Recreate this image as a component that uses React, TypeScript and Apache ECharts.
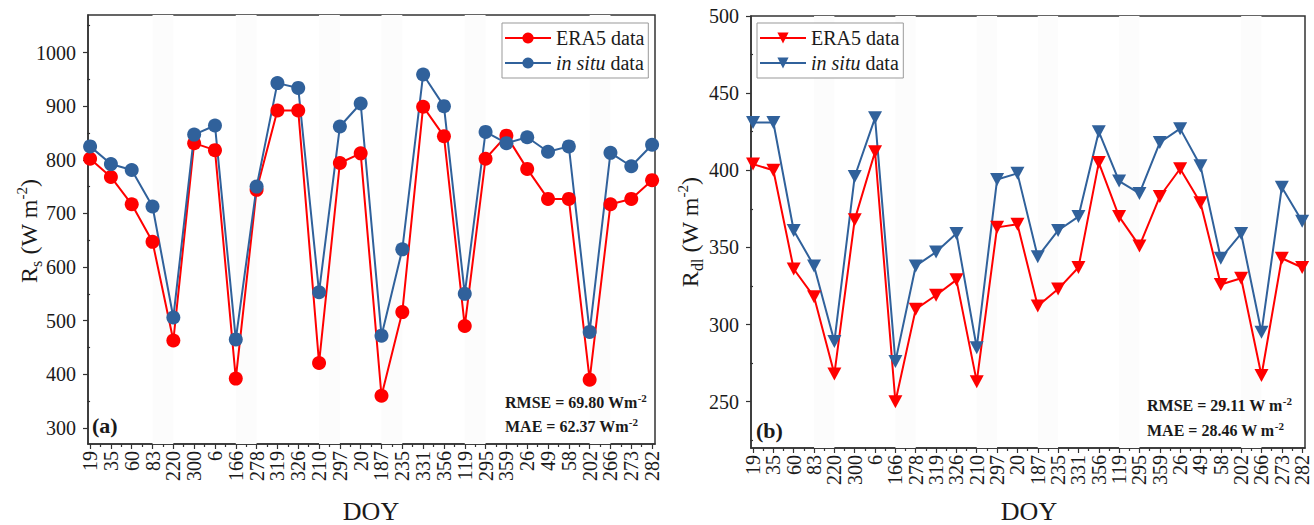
import React, { useEffect, useRef } from 'react';
import * as echarts from 'echarts';

const categories = ['19','35','60','83','220','300','6','166','278','319','326','210','297','20','187','235','331','356','119','295','359','26','49','58','202','266','273','282'];

const rsEra5 = [802,768,717,647,463,831,818,392,744,892,892,421,794,812,360,516,899,844,490,802,845,783,727,727,390,717,727,762];
const rsInSitu = [825,792,781,713,506,847,864,465,750,943,934,553,862,905,472,633,959,900,550,852,831,842,815,825,479,813,788,828];

const rdlEra5 = [404,400,336,318,268,368,412,250,310,319,329,263,363,365,312,323,337,405,370,351,383,401,379,326,330,267,343,337];
const rdlInSitu = [431,431,361,338,289,396,434,276,338,347,359,285,394,398,344,361,370,425,393,385,418,427,403,343,359,295,389,367];

const bandRanges = [[3,4],[7,8],[11,12],[14,15],[18,19],[24,25]];

const rsMajor = [300,400,500,600,700,800,900,1000];
const rsMinor = [350,450,550,650,750,850,950,1050];
const rdlMajor = [250,300,350,400,450,500];
const rdlMinor = [225,275,325,375,425,475];

const FONT = 'Liberation Serif';
const AXIS = '#333';
const RED = '#FF0000';
const BLUE = '#30619B';
const BAND = '#fcfcfc';
const TXT = '#1a1a1a';

const catIdx = categories.map((_, i) => i);
const catHalf = categories.slice(1).map((_, i) => i + 0.5);

function xAxes(gridIndex: number) {
  return [
    {
      type: 'value', gridIndex, min: -0.1, max: 27.14, position: 'bottom',
      axisLine: { show: true, onZero: false, lineStyle: { color: AXIS, width: 1.5 } },
      axisTick: { show: true, customValues: catIdx, length: 5, lineStyle: { color: AXIS, width: 1.2 } },
      axisLabel: {
        customValues: catIdx, rotate: 90, fontSize: 20, fontFamily: FONT, color: TXT, margin: 7,
        formatter: (v: number) => categories[Math.round(v)] ?? '',
      },
      splitLine: { show: false },
    },
    {
      type: 'value', gridIndex, min: -0.1, max: 27.14, position: 'bottom',
      axisLine: { show: false },
      axisTick: { show: true, customValues: catHalf, length: 3, lineStyle: { color: AXIS, width: 1.2 } },
      axisLabel: { show: false },
      splitLine: { show: false },
    },
  ];
}

function yAxes(gridIndex: number, min: number, max: number, major: number[], minor: number[]) {
  return [
    {
      type: 'value', gridIndex, min, max, position: 'left',
      axisLine: { show: true, onZero: false, lineStyle: { color: AXIS, width: 1.5 } },
      axisTick: { show: true, customValues: major, length: 5, lineStyle: { color: AXIS, width: 1.2 } },
      axisLabel: { customValues: major, fontSize: 20, fontFamily: FONT, color: TXT, margin: 12, formatter: (v: number) => String(v) },
      splitLine: { show: false },
    },
    {
      type: 'value', gridIndex, min, max, position: 'left',
      axisLine: { show: false },
      axisTick: { show: true, customValues: minor, length: 3, lineStyle: { color: AXIS, width: 1.2 } },
      axisLabel: { show: false },
      splitLine: { show: false },
    },
  ];
}

function lineSeries(name: string, values: number[], color: string, xi: number, yi: number, triangle: boolean, withBands: boolean) {
  const s: any = {
    type: 'line', name, xAxisIndex: xi, yAxisIndex: yi,
    data: values.map((v, i) => [i, v]),
    symbol: triangle ? 'triangle' : 'circle',
    symbolRotate: triangle ? 180 : 0,
    symbolSize: triangle ? [14, 13] : 14,
    lineStyle: { color, width: 2 },
    itemStyle: { color },
    emphasis: { disabled: true },
  };
  if (withBands) {
    s.markArea = {
      silent: true,
      itemStyle: { color: BAND },
      data: bandRanges.map(([a, b]) => [{ xAxis: a }, { xAxis: b }]),
    };
  }
  return s;
}

const legendText = {
  fontSize: 20, fontFamily: FONT, color: TXT, lineHeight: 20,
  rich: {
    r: { fontSize: 20, fontFamily: FONT, color: TXT, lineHeight: 20 },
    i: { fontSize: 20, fontFamily: FONT, fontStyle: 'italic', color: TXT, lineHeight: 20 },
  },
};
const legendFmt = (name: string) => (name.endsWith('era5') ? '{r|ERA5 data}' : '{i|in situ}{r| data}');

function legendAt(left: number, top: number, names: string[]) {
  return {
    left, top, orient: 'vertical', data: names, selectedMode: false,
    itemWidth: 46, itemHeight: 14, itemGap: 5, padding: [5, 4, 5, 2],
    borderColor: '#999', borderWidth: 1, backgroundColor: '#fff',
    textStyle: legendText, formatter: legendFmt,
  };
}

const nameRich = {
  n: { fontSize: 24, fontFamily: FONT, lineHeight: 30, fill: TXT },
  sub: { fontSize: 16, fontFamily: FONT, lineHeight: 16, verticalAlign: 'bottom', fill: TXT },
  sup: { fontSize: 15, fontFamily: FONT, lineHeight: 15, verticalAlign: 'top', fill: TXT },
};
const statRich = {
  b: { fontSize: 16, fontFamily: FONT, fontWeight: 'bold', lineHeight: 20, fill: TXT },
  sup: { fontSize: 11, fontFamily: FONT, fontWeight: 'bold', lineHeight: 11, verticalAlign: 'top', fill: TXT },
};

function txt(x: number, y: number, text: string, extra: any = {}) {
  return { type: 'text', x, y, z: 100, style: { text, fill: TXT, fontFamily: FONT, ...extra } };
}

const option: any = {
  animation: false,
  backgroundColor: '#fff',
  textStyle: { fontFamily: FONT },
  grid: [
    { left: 88, top: 15, width: 567, height: 429, show: true, borderColor: AXIS, borderWidth: 1.5, backgroundColor: 'transparent' },
    { left: 751, top: 16, width: 554, height: 432, show: true, borderColor: AXIS, borderWidth: 1.5, backgroundColor: 'transparent' },
  ],
  xAxis: [...xAxes(0), ...xAxes(1)],
  yAxis: [...yAxes(0, 270, 1070, rsMajor, rsMinor), ...yAxes(1, 220, 500, rdlMajor, rdlMinor)],
  legend: [
    legendAt(502, 23, ['rs-era5', 'rs-situ']),
    legendAt(757, 23, ['rdl-era5', 'rdl-situ']),
  ],
  series: [
    lineSeries('rs-era5', rsEra5, RED, 0, 0, false, true),
    lineSeries('rs-situ', rsInSitu, BLUE, 0, 0, false, false),
    lineSeries('rdl-era5', rdlEra5, RED, 2, 2, true, true),
    lineSeries('rdl-situ', rdlInSitu, BLUE, 2, 2, true, false),
  ],
  graphic: [
    { type: 'text', x: 29, y: 231, rotation: Math.PI / 2, z: 100,
      style: { text: '{n|R}{sub|s}{n| (W m}{sup|-2}{n|)}', rich: nameRich, align: 'center', verticalAlign: 'middle', fill: TXT, fontFamily: FONT, fontSize: 24 } },
    { type: 'text', x: 690, y: 232, rotation: Math.PI / 2, z: 100,
      style: { text: '{n|R}{sub|dl}{n| (W m}{sup|-2}{n|)}', rich: nameRich, align: 'center', verticalAlign: 'middle', fill: TXT, fontFamily: FONT, fontSize: 24 } },
    txt(371, 511, 'DOY', { fontSize: 26, align: 'center', verticalAlign: 'middle' }),
    txt(1029, 511, 'DOY', { fontSize: 26, align: 'center', verticalAlign: 'middle' }),
    txt(92, 425, '(a)', { fontSize: 22, fontWeight: 'bold', align: 'left', verticalAlign: 'middle' }),
    txt(756, 430, '(b)', { fontSize: 22, fontWeight: 'bold', align: 'left', verticalAlign: 'middle' }),
    txt(505, 402, '{b|RMSE = 69.80 Wm}{sup|-2}', { rich: statRich, align: 'left', verticalAlign: 'middle' }),
    txt(505, 426, '{b|MAE = 62.37 Wm}{sup|-2}', { rich: statRich, align: 'left', verticalAlign: 'middle' }),
    txt(1147, 405, '{b|RMSE = 29.11 W m}{sup|-2}', { rich: statRich, align: 'left', verticalAlign: 'middle' }),
    txt(1147, 430, '{b|MAE = 28.46 W m}{sup|-2}', { rich: statRich, align: 'left', verticalAlign: 'middle' }),
  ],
};

export default function App() {
  const ref = useRef<HTMLDivElement>(null);
  useEffect(() => {
    const chart = echarts.init(ref.current!, null, { renderer: 'svg' });
    chart.setOption(option);
    return () => chart.dispose();
  }, []);
  return <div ref={ref} style={{ position: 'absolute', left: 0, top: 0, width: 1314, height: 525 }} />;
}
